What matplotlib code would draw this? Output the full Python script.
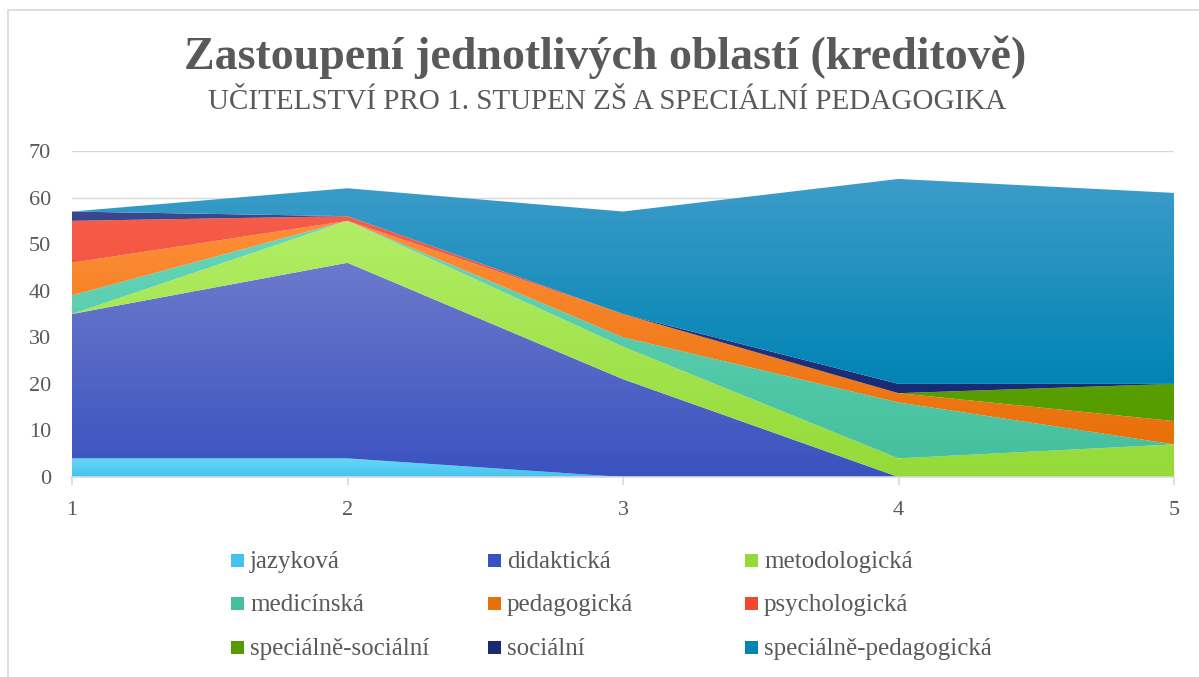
import numpy as np
import matplotlib
matplotlib.use("Agg")
import matplotlib.pyplot as plt
from matplotlib.colors import LinearSegmentedColormap
from matplotlib.patches import Rectangle

x = [1, 2, 3, 4, 5]
series_names = ["jazyková", "didaktická", "metodologická", "medicínská", "pedagogická",
                "psychologická", "speciálně-sociální", "sociální", "speciálně-pedagogická"]
jazykova = [4, 4, 0, 0, 0]
didakticka = [31, 42, 21, 0, 0]
metodologicka = [0, 9, 7, 4, 7]
medicinska = [4, 0, 2, 12, 0]
pedagogicka = [7, 0, 5, 2, 5]
psychologicka = [9, 1, 0, 0, 0]
specialne_socialni = [0, 0, 0, 0, 8]
socialni = [2, 0, 0, 2, 0]
specialne_pedagogicka = [0, 6, 22, 44, 41]

values = [jazykova, didakticka, metodologicka, medicinska, pedagogicka,
          psychologicka, specialne_socialni, socialni, specialne_pedagogicka]
# (top colour, bottom colour) for the Excel-like gradient fills
colors = [("#66d8f8", "#45c2ee"), ("#6c7acc", "#3a52c0"), ("#b2ee66", "#94da38"),
          ("#68d8ba", "#45c09e"), ("#ff8e38", "#e8700a"), ("#f65c4a", "#ee482e"),
          ("#62aa04", "#569c00"), ("#3a4890", "#1a2a72"), ("#3d9cc9", "#0084b4")]

plt.rcParams["font.family"] = ["Liberation Serif", "DejaVu Serif"]
grey = "#595959"

fig = plt.figure(figsize=(11.99, 6.77), dpi=100)
fig.add_artist(Rectangle((0.007, -0.01), 1.0, 0.995, transform=fig.transFigure,
                         fill=False, edgecolor="#d9d9d9", linewidth=1.2))
ax = fig.add_axes([72 / 1199, 1 - 477 / 677, (1174 - 72) / 1199, (477 - 151) / 677])

bottom = np.zeros(len(x))
for vals, (ctop, cbot) in zip(values, colors):
    top = bottom + np.array(vals, dtype=float)
    poly = ax.fill_between(x, bottom, top, facecolor="none", edgecolor="none", zorder=2)
    lo, hi = bottom.min(), top.max()
    if hi > lo:
        cmap = LinearSegmentedColormap.from_list("g", [cbot, ctop])
        grad = np.linspace(0, 1, 256).reshape(-1, 1)
        im = ax.imshow(grad, cmap=cmap, aspect="auto", origin="lower",
                       extent=[x[0], x[-1], lo, hi], zorder=2, interpolation="bilinear")
        im.set_clip_path(poly.get_paths()[0], ax.transData)
    bottom = top

ax.set_xlim(1, 5)
ax.set_ylim(0, 70)
ax.set_yticks(range(0, 71, 10))
ax.set_xticks(x)
ax.grid(axis="y", color="#d9d9d9", linewidth=1, zorder=0)
ax.set_axisbelow(True)
for s in ["top", "left", "right"]:
    ax.spines[s].set_visible(False)
ax.spines["bottom"].set_color("#d9d9d9")
ax.spines["bottom"].set_linewidth(1.2)
ax.tick_params(axis="y", length=0, pad=15, labelsize=16, labelcolor=grey)
ax.tick_params(axis="x", length=6, width=1.2, color="#d9d9d9", pad=11, labelsize=16, labelcolor=grey)

fig.text(0.505, 1 - 57 / 677, "Zastoupení jednotlivých oblastí (kreditově)", ha="center", va="center",
         fontsize=33, fontweight="bold", color=grey)
fig.text(0.506, 1 - 102 / 677, "UČITELSTVÍ PRO 1. STUPEN ZŠ A SPECIÁLNÍ PEDAGOGIKA", ha="center", va="center",
         fontsize=21, color=grey)

# legend laid out as in the source: three columns
col_x = [231, 488, 745]
row_y = [561, 604, 648]
for i, (name, (ctop, cbot)) in enumerate(zip(series_names, colors)):
    cx = col_x[i % 3]
    cy = row_y[i // 3]
    fig.add_artist(Rectangle((cx / 1199, 1 - (cy + 6) / 677), 13 / 1199, 13 / 677,
                             transform=fig.transFigure, facecolor=cbot, edgecolor="none"))
    fig.text((cx + 19) / 1199, 1 - (cy + 1) / 677, name, ha="left", va="center", fontsize=18, color=grey)

fig.savefig("out.png", dpi=100)
